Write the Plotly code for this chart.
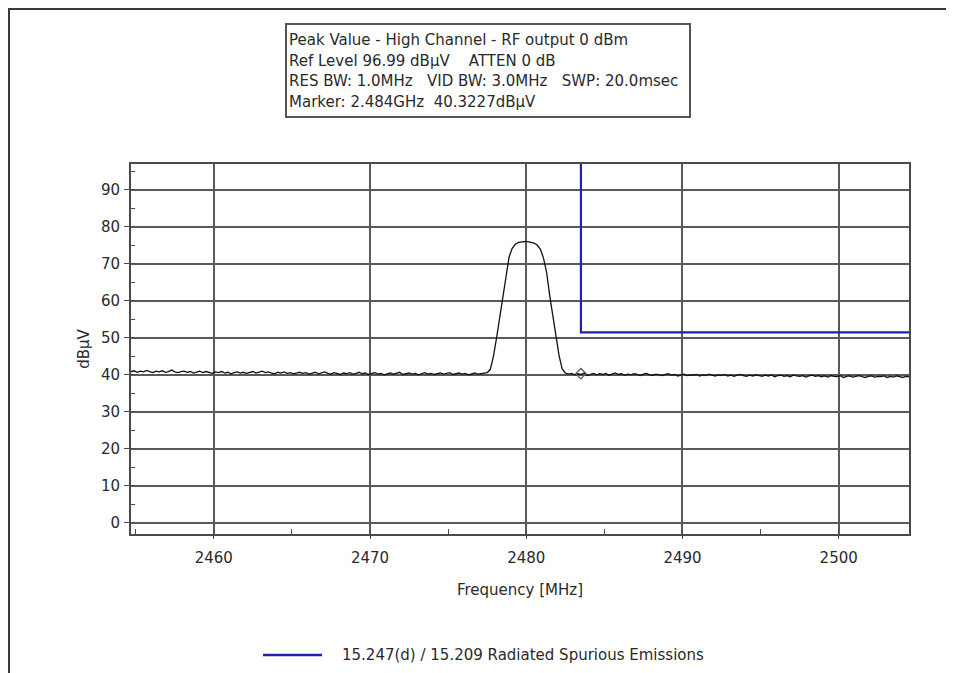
import numpy as np
import plotly.graph_objects as go

# ---------------- data ----------------
F_START = 2454.7      # MHz, first sweep point
F_STEP = 0.2          # MHz, sweep step
trace_level = [
    40.9, 41.1, 40.7, 41.0, 40.8, 41.2, 40.9, 40.6, 41.0, 40.8,
    41.1, 40.7, 40.9, 41.3, 40.8, 40.6, 40.9, 41.0, 40.7, 40.9,
    40.5, 40.8, 41.0, 40.6, 40.9, 40.7, 40.4, 40.8, 40.6, 40.9,
    40.5, 40.7, 40.3, 40.6, 40.8, 40.5, 40.7, 40.4, 40.6, 40.9,
    40.5, 40.7, 41.0, 40.6, 40.8, 40.5, 40.3, 40.7, 40.5, 40.8,
    40.4, 40.6, 40.3, 40.5, 40.7, 40.4, 40.6, 40.2, 40.5, 40.7,
    40.3, 40.5, 40.8, 40.4, 40.2, 40.6, 40.4, 40.1, 40.5, 40.3,
    40.6, 40.2, 40.4, 40.7, 40.3, 40.5, 40.1, 40.4, 40.6, 40.2,
    40.4, 40.0, 40.3, 40.5, 40.2, 40.4, 40.7, 40.1, 40.3, 40.5,
    40.2, 40.4, 40.0, 40.3, 40.6, 40.2, 40.4, 40.1, 40.3, 40.5,
    40.2, 40.4, 40.6, 40.1, 40.3, 40.5, 40.2, 40.4, 40.0, 40.3,
    40.5, 40.2, 40.4, 40.6,
    # carrier
    40.6, 41.5, 45.0, 50.0, 55.5, 61.0, 67.5, 71.8, 74.2, 75.3,
    75.8, 76.0, 76.0, 76.0, 75.9, 75.6, 75.1, 74.0, 71.6, 67.8,
    61.5, 55.8, 50.2, 45.2, 41.6, 40.5,
    # upper band edge / restricted band
    40.2, 40.4, 40.0, 40.3, 40.1, 40.5, 39.8, 40.2, 40.4, 40.0,
    40.3, 40.1, 40.4, 39.9, 40.2, 40.5, 40.1, 40.3, 39.9, 40.2,
    40.0, 40.3, 40.1, 39.8, 40.2, 40.4, 40.0, 39.9, 40.2, 40.0,
    39.8, 40.1, 40.3, 39.9, 40.1, 39.7, 40.0, 40.2, 39.8, 40.0,
    39.9, 40.1, 39.7, 40.0, 39.8, 40.2, 39.9, 39.7, 40.0, 39.8,
    40.1, 39.7, 39.9, 39.6, 39.9, 40.1, 39.8, 39.6, 39.9, 39.7,
    40.0, 39.8, 39.6, 39.9, 39.7, 40.0, 39.5, 39.8, 39.9, 39.6,
    39.8, 39.5, 39.9, 39.7, 39.6, 39.8, 39.4, 39.7, 39.9, 39.6,
    39.8, 39.5, 39.7, 39.4, 39.8, 39.6, 39.5, 39.8, 39.3, 39.6,
    39.7, 39.4, 39.6, 39.8, 39.5, 39.3, 39.6, 39.7, 39.4, 39.6,
    39.5, 39.7, 39.3, 39.6, 39.4, 39.7, 39.5, 39.3, 39.6, 39.5,
]
trace_freq = np.round(F_START + F_STEP * np.arange(len(trace_level)), 2)

limit_name = "15.247(d) / 15.209 Radiated Spurious Emissions"
limit_freq = [2483.5, 2483.5, 2504.5]
limit_level = [100.0, 51.5, 51.5]

marker_freq = [2483.5]
marker_level = [40.3227]

header_lines = [
    "Peak Value - High Channel - RF output 0 dBm",
    "Ref Level 96.99 dBµV    ATTEN 0 dB",
    "RES BW: 1.0MHz   VID BW: 3.0MHz   SWP: 20.0msec",
    "Marker: 2.484GHz  40.3227dBµV",
]

x_range = [2454.7, 2504.5]
y_range = [-3.01, 96.99]
x_title = "Frequency [MHz]"
y_title = "dBµV"

# ---------------- layout helpers (page pixel -> paper) ----------------
OFF = 8                      # page body margin around the figure
W, H = 954 - OFF, 673 - OFF
PL, PR, PT, PB = 131, 909, 164, 534     # plot area in page pixels


def px_x(px):
    return (px - PL) / (PR - PL)


def px_y(py):
    return (PB - py) / (PB - PT)


FONT = "DejaVu Sans, Verdana, sans-serif"
FS = 15
TXT = "#2a2a2a"
GRID = "#5a5a5a"
FRAME = "#4a4a4a"
BLUE = "#2222a8"

fig = go.Figure()
fig.add_trace(go.Scatter(
    x=trace_freq, y=trace_level, mode="lines",
    line=dict(color="#111111", width=1.3), showlegend=False,
    hoverinfo="x+y",
))
fig.add_trace(go.Scatter(
    x=limit_freq, y=limit_level, mode="lines", name=limit_name,
    line=dict(color=BLUE, width=2.2), showlegend=False,
))
fig.add_trace(go.Scatter(
    x=marker_freq, y=marker_level, mode="markers", showlegend=False,
    marker=dict(symbol="diamond-open", size=8, color="#555555",
                line=dict(width=1.2)),
))

shapes = []
annotations = []

# outer frame (top and left edges visible)
shapes.append(dict(type="line", xref="paper", yref="paper",
                   x0=px_x(OFF), x1=px_x(960), y0=px_y(OFF + 1), y1=px_y(OFF + 1),
                   line=dict(color="#3a3a3a", width=2)))
shapes.append(dict(type="line", xref="paper", yref="paper",
                   x0=px_x(OFF + 1), x1=px_x(OFF + 1), y0=px_y(OFF), y1=px_y(680),
                   line=dict(color="#3a3a3a", width=2)))

# header box
shapes.append(dict(type="rect", xref="paper", yref="paper",
                   x0=px_x(286), x1=px_x(690), y0=px_y(117), y1=px_y(24),
                   line=dict(color="#555555", width=2), fillcolor="white"))
for txt, yc in zip(header_lines, [40, 61, 81.5, 102]):
    annotations.append(dict(
        xref="paper", yref="paper", x=px_x(287), y=px_y(yc),
        xanchor="left", yanchor="middle", showarrow=False,
        text=txt.replace(" ", "\u00a0"),
        font=dict(family=FONT, size=FS, color=TXT),
    ))

# legend (drawn manually to match the long line sample)
shapes.append(dict(type="line", xref="paper", yref="paper",
                   x0=px_x(263), x1=px_x(322), y0=px_y(655), y1=px_y(655),
                   line=dict(color=BLUE, width=2.5)))
annotations.append(dict(
    xref="paper", yref="paper", x=px_x(340), y=px_y(655),
    xanchor="left", yanchor="middle", showarrow=False,
    text=limit_name,
    font=dict(family=FONT, size=FS, color=TXT),
))

fig.update_layout(
    width=W, height=H,
    margin=dict(l=PL - OFF, r=W - (PR - OFF), t=PT - OFF, b=H - (PB - OFF)),
    paper_bgcolor="white", plot_bgcolor="white",
    font=dict(family=FONT, size=FS, color=TXT),
    shapes=shapes, annotations=annotations,
    showlegend=False,
)

fig.update_xaxes(
    range=x_range, tick0=2460, dtick=10,
    showgrid=True, gridcolor=GRID, gridwidth=1.5,
    showline=True, linecolor=FRAME, linewidth=2, mirror=True,
    ticks="outside", ticklen=3, tickcolor=FRAME,
    minor=dict(dtick=5, tick0=2455, ticks="inside", ticklen=5,
               tickcolor=FRAME, showgrid=False),
    zeroline=False, ticklabelstandoff=6,
    title=dict(text=x_title, standoff=18, font=dict(size=FS)),
    tickfont=dict(size=FS),
)
fig.update_yaxes(
    range=y_range, tick0=0, dtick=10,
    showgrid=True, gridcolor=GRID, gridwidth=1.5,
    showline=True, linecolor=FRAME, linewidth=2, mirror=True,
    ticks="outside", ticklen=5, tickcolor=FRAME,
    minor=dict(dtick=5, tick0=0, ticks="inside", ticklen=4,
               tickcolor=FRAME, showgrid=False),
    zeroline=False, ticklabelstandoff=1,
    title=dict(text=y_title, standoff=8, font=dict(size=FS)),
    tickfont=dict(size=FS),
)

fig.write_html("out.html")
